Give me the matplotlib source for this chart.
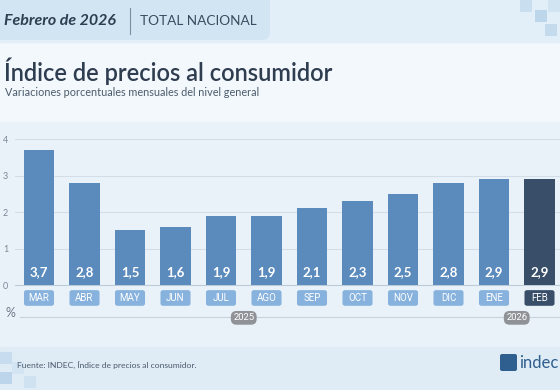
import matplotlib
matplotlib.use('Agg')
import matplotlib.pyplot as plt
from matplotlib.patches import Rectangle, FancyBboxPatch

# Data
months = ['MAR', 'ABR', 'MAY', 'JUN', 'JUL', 'AGO', 'SEP', 'OCT', 'NOV', 'DIC', 'ENE', 'FEB']
values = [3.7, 2.8, 1.5, 1.6, 1.9, 1.9, 2.1, 2.3, 2.5, 2.8, 2.9, 2.9]
labels = ['3,7', '2,8', '1,5', '1,6', '1,9', '1,9', '2,1', '2,3', '2,5', '2,8', '2,9', '2,9']
years = ['2025', '2026']
year_spans = [(0, 9), (10, 11)]
yticks = [0, 1, 2, 3, 4]

plt.rcParams['font.family'] = ['Lato', 'DejaVu Sans']

W, H = 560, 390
fig = plt.figure(figsize=(W / 100, H / 100), dpi=100)

# background in pixel coordinates
bg = fig.add_axes([0, 0, 1, 1])
bg.set_xlim(0, W)
bg.set_ylim(H, 0)
bg.axis('off')
bg.add_patch(Rectangle((0, 0), W, H, color='#f3f8fc', zorder=0))
bg.add_patch(Rectangle((0, 0), W, 42, color='#e3eff8', zorder=1))
bg.add_patch(FancyBboxPatch((-20, -20), 290, 60, boxstyle='round,pad=0,rounding_size=8',
                            color='#d2e5f3', zorder=2, lw=0))
bg.add_patch(Rectangle((0, 122), W, 225, color='#eaf2f9', zorder=1))
bg.add_patch(Rectangle((0, 347), W, H - 347, color='#dfebf5', zorder=1))
# pixel squares decoration
for x0, y0, c in [(520, 0, '#c9dff0'), (535, 10, '#bcd6ec'), (548, 0, '#d0e4f2'), (545, 24, '#c4dbee'),
                  (0, 352, '#c7dcee'), (12, 362, '#d3e5f3'), (0, 372, '#bcd5ea'), (24, 376, '#cfe2f1')]:
    bg.add_patch(Rectangle((x0, y0), 12, 12, color=c, zorder=2, lw=0))

bg.plot([130, 130], [8, 34], color='#7d8fa3', lw=0.8, zorder=3)
bg.text(4, 21, 'Febrero de 2026', fontsize=11.5, fontweight='bold', fontstyle='italic',
        color='#2c3e52', va='center', ha='left', zorder=3)
bg.text(140, 21, 'TOTAL NACIONAL', fontsize=9.8, color='#3a4c60', va='center', ha='left', zorder=3)
bg.text(4, 71, 'Índice de precios al consumidor', fontsize=17, fontweight='semibold',
        color='#2e3d4f', va='center', ha='left', zorder=3)
bg.text(5, 92, 'Variaciones porcentuales mensuales del nivel general', fontsize=7.8,
        color='#4b5b6c', va='center', ha='left', zorder=3)
bg.text(17, 365, 'Fuente: INDEC, Índice de precios al consumidor.', fontsize=6.1,
        color='#4b5b6c', va='center', ha='left', zorder=3)
bg.add_patch(FancyBboxPatch((500, 354), 17, 17, boxstyle='round,pad=0,rounding_size=2',
                            color='#2f5f8f', zorder=3, lw=0))
bg.text(519, 363, 'indec', fontsize=12, color='#2f5f8f', va='center', ha='left', zorder=3)

# chart axes
x_left, x_right = 15, 560
px_per_bar = 45.5
x0c = 39
ax = fig.add_axes([x_left / W, (H - 325) / H, (x_right - x_left) / W, 195 / H])
ax.set_facecolor('none')
ax.set_xlim((x_left - x0c) / px_per_bar, (x_right - x0c) / px_per_bar)
ax.set_ylim(-1.096, 4.25)
for s in ax.spines.values():
    s.set_visible(False)
ax.set_xticks([])
ax.set_yticks(yticks)
ax.set_yticklabels([str(t) for t in yticks], fontsize=6.5, color='#7b8896')
ax.tick_params(axis='y', length=0, pad=5)
for t in yticks:
    ax.axhline(t, color='#d2dde8' if t else '#bccbd8', lw=0.8, zorder=1)

xs = list(range(len(months)))
colors = ['#5b8bbd'] * (len(months) - 1) + ['#394f69']
box_colors = ['#87b2dd'] * (len(months) - 1) + ['#394f69']
ax.bar(xs, values, width=0.66, color=colors, zorder=2)
for x, lab, m, bc in zip(xs, labels, months, box_colors):
    ax.text(x, 0.35, lab, ha='center', va='center', color='white', fontsize=9.5,
            fontweight='bold', zorder=3)
    ax.add_patch(FancyBboxPatch((x - 0.33, -0.57), 0.66, 0.43,
                                boxstyle='round,pad=0,rounding_size=0.06',
                                color=bc, lw=0, zorder=2))
    ax.text(x, -0.355, m, ha='center', va='center', color='white', fontsize=7, zorder=3,
            family=['Roboto', 'DejaVu Sans'])

ax.axhline(-0.877, xmin=(20 - x_left) / (x_right - x_left), color='#c6d3df', lw=0.8, zorder=1)
ax.text(-0.52, -0.78, '%', transform=ax.transData, fontsize=9, color='#6d7a88',
        ha='right', va='center', clip_on=False)
for yr, (a, b) in zip(years, year_spans):
    ax.text((a + b) / 2, -0.90, yr, ha='center', va='center', fontsize=6.8, color='white',
            family=['Roboto', 'DejaVu Sans'], zorder=3,
            bbox=dict(boxstyle='round,pad=0.25,rounding_size=0.6', fc='#8f9397', ec='none'))

fig.savefig('out.png', dpi=100)
